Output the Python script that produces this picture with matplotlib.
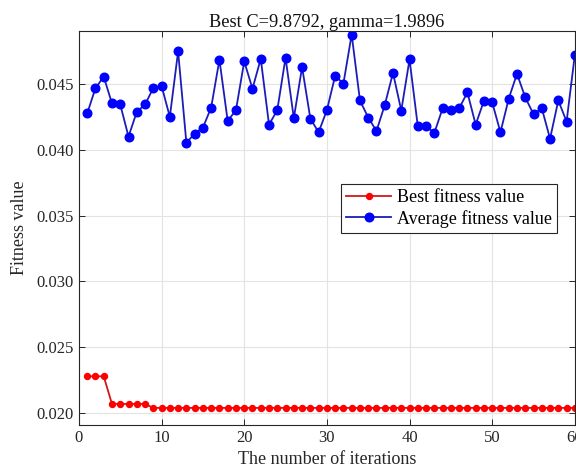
import matplotlib
matplotlib.use("Agg")
import matplotlib.pyplot as plt
import numpy as np

plt.rcParams['font.family'] = ['Liberation Serif', 'DejaVu Serif']

iterations = list(range(1, 61))
best_fitness = [0.0228, 0.0228, 0.0228] + [0.0207] * 5 + [0.0204] * 52
avg_fitness = [
    0.04276, 0.04467, 0.04556, 0.04352, 0.04344, 0.04100, 0.04288, 0.04344, 0.04469, 0.04485,
    0.04250, 0.04747, 0.04054, 0.04122, 0.04168, 0.04321, 0.04684, 0.04219, 0.04301, 0.04671,
    0.04464, 0.04691, 0.04191, 0.04301, 0.04699, 0.04240, 0.04628, 0.04237, 0.04133, 0.04301,
    0.04561, 0.04503, 0.04875, 0.04375, 0.04245, 0.04143, 0.04339, 0.04584, 0.04298, 0.04686,
    0.04179, 0.04179, 0.04128, 0.04314, 0.04301, 0.04314, 0.04436, 0.04191, 0.04372, 0.04360,
    0.04133, 0.04388, 0.04577, 0.04398, 0.04270, 0.04316, 0.04084, 0.04375, 0.04214, 0.04722,
]
title_text = "Best C=9.8792, gamma=1.9896"
xticks = [0, 10, 20, 30, 40, 50, 60]
yticks = [0.020, 0.025, 0.030, 0.035, 0.040, 0.045]

fig = plt.figure(figsize=(5.76, 4.71), dpi=100)
ax = fig.add_axes([0.137, 0.0976, 0.861, 0.836])

ax.plot(iterations, best_fitness, '-', color='#d01818', lw=1.3,
        marker='o', markersize=4.3, markerfacecolor='#ff0000', markeredgecolor='#ff0000',
        label='Best fitness value')
ax.plot(iterations, avg_fitness, '-', color='#1c1cb8', lw=1.3,
        marker='o', markersize=6.2, markerfacecolor='#0000ff', markeredgecolor='#0000ff',
        label='Average fitness value')

ax.set_xlim(0, 60)
ax.set_ylim(0.0191, 0.0490)
ax.set_xticks(xticks)
ax.set_yticks(yticks)
ax.set_yticklabels([f"{v:.3f}" for v in yticks])
ax.grid(True, color='#e3e3e3', lw=0.8)
ax.set_axisbelow(True)
ax.tick_params(direction='in', length=4, labelsize=12, colors='#262626',
               top=True, right=True, width=0.7)
for s in ax.spines.values():
    s.set_color('#262626')
    s.set_linewidth(0.8)

ax.set_xlabel('The number of iterations', fontsize=13, color='#262626', labelpad=4)
ax.set_ylabel('Fitness value', fontsize=13, color='#262626', labelpad=6)
ax.set_title(title_text, fontsize=13.2, color='#111111', pad=3)

leg = ax.legend(loc='upper left', bbox_to_anchor=(0.528, 0.613), fontsize=13,
                frameon=True, fancybox=False, edgecolor='#262626', framealpha=1,
                borderpad=0.3, handlelength=2.5, handletextpad=0.3, labelspacing=0.2,
                borderaxespad=0)
leg.get_frame().set_linewidth(0.8)

fig.savefig('out.png', dpi=100)
